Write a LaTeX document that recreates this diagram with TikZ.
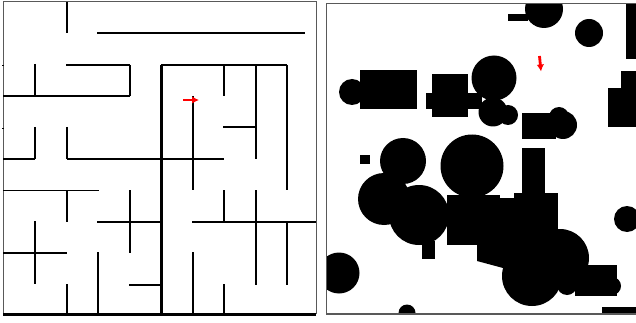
\documentclass[tikz,border=0pt]{standalone}
\usepackage{xcolor}
\usepackage{tikz}
\usetikzlibrary{arrows.meta}

\begin{document}
\begin{tikzpicture}[x=1pt, y=-1pt,
    wall/.style={black, line width=1.9pt},
    widewall/.style={black, line width=2.5pt},
    heavywall/.style={black, line width=3pt},
    panel/.style={gray!70!black, line width=1pt},
    obstacle/.style={fill=black, draw=none},
    heading/.style={red, line width=2.8pt, -{Latex[length=7pt,width=7.5pt]}}]
\useasboundingbox (0,0) rectangle (636,323);
% Maze panel, outer frame
\draw[panel] (3.5,314) -- (3.5,2) -- (316,2) -- (316,314);
\foreach \ty in {65,128} \draw[wall, line width=0.6pt] (2,\ty) -- (3.5,\ty);
% Maze, vertical walls as x/top/bottom
\foreach \wx/\wa/\wb in {
    67/2/33, 130/65/96, 224/65/96, 256/65/159, 287/65/190,
    193/96/190, 67/127/159, 67/190/222, 130/190/253,
    67/284/314, 98/252/314, 193/252/314, 224/284/314, 224/190/222,
    256/190/285, 287/222/285}
  \draw[wall] (\wx,\wa) -- (\wx,\wb);
% Maze, horizontal walls as y/left/right
\foreach \wy/\wa/\wb in {
    33/97/305, 65/66/130, 96/3/130, 65/161/287, 127/223/256,
    159/67/224, 190.5/3/99, 222/97/161, 285/129/161, 222/192/316}
  \draw[wall] (\wa,\wy) -- (\wb,\wy);
% Wider walls
\foreach \wx/\wa/\wb in {35/64/96, 35/127/159, 35/221/284}
  \draw[widewall] (\wx,\wa) -- (\wx,\wb);
\draw[widewall] (3,159) -- (35,159);
\draw[widewall] (3,253) -- (67,253);
% Heavier walls
\draw[heavywall] (161.5,65) -- (161.5,314);
\draw[heavywall] (3,314) -- (316,314);
% Robot in the maze
\draw[heading] (183,100) -- (199,100);
% Obstacle panel
\begin{scope}
\clip (326,4) rectangle (636,314);
% Circles as x/y/radius
\foreach \cx/\cy/\cr in {
    544/9/19, 589/33/14, 352/92/13, 494/78/22.5, 493/112/14.5, 508/115/10,
    563/125/14, 559/117/10, 403/161/23, 472/166/31.5, 384/199/26, 419/215/30,
    532/276/30, 560/258/29, 567/285/10, 612/286/9, 627/219/13, 339/273/20.5,
    407/313/8.5}
  \fill[obstacle] (\cx,\cy) circle (\cr);
% Rectangles as left/top/right/bottom
\foreach \ra/\rb/\rc/\rd in {
    508/14/528/21, 626/4/636/59, 360/70/417/109, 432/74/468/117,
    426/93/482/109, 522/113/556/139, 621/71/636/127, 608/88/636/127,
    360/155/370/164, 522/148/545/198, 422/241/435/259, 447/195/500/245,
    477/198/558/260, 514/193/558/235, 575/265/617/296, 602/307/636/314}
  \fill[obstacle] (\ra,\rb) rectangle (\rc,\rd);
\fill[obstacle] (477,260) -- (477,261) -- (503,268) -- (530,268) -- (530,255) -- cycle;
\end{scope}
\draw[panel] (326,314) -- (326,4) -- (636,4);
\draw[panel, line width=1.4pt] (326,314) -- (636,314);
% Robot among the obstacles
\draw[heading] (539.5,56) -- (541,71.5);
\end{tikzpicture}
\end{document}
